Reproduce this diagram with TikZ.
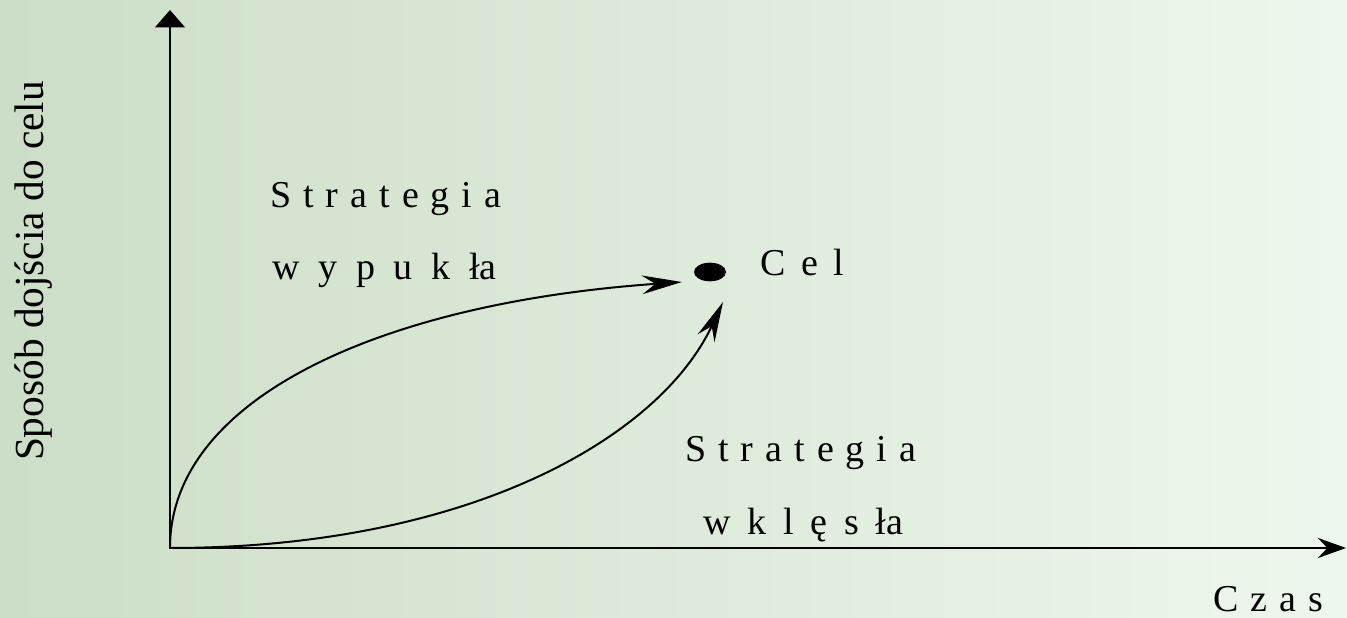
\documentclass[tikz,border=0pt]{standalone}
\usepackage{fontspec}
\setmainfont{Liberation Serif}
\usetikzlibrary{arrows.meta,shapes.geometric}
\definecolor{bgleft}{RGB}{204,222,199}
\definecolor{bgright}{RGB}{238,247,237}

\begin{document}
\begin{tikzpicture}[x=0.75pt,y=0.75pt,
    axisline/.style={line width=2.2pt,line join=miter},
    curve/.style={line width=1.5pt,-{Stealth[length=30pt,width=14pt,inset=10pt]}},
    txt/.style={font={\fontsize{28.5}{34}\selectfont\spaceskip=#1pt\relax},anchor=base west,inner sep=0pt},
    txt/.default=9]
    % Background
    \shade[left color=bgleft, right color=bgright] (0,0) rectangle (1347,618);
    \useasboundingbox (0,0) rectangle (1347,618);

    % Axes
    \coordinate (O) at (170,70);
    \coordinate (ytop) at (170,608);
    \coordinate (xend) at (1346,70);
    \draw[axisline,{Triangle[length=13pt,width=22pt]}-{Stealth[length=21pt,width=15pt,inset=7pt]}]
        (ytop) -- (O) -- (xend);

    % Goal
    \node[ellipse, fill=black, inner sep=0pt, minimum width=24pt, minimum height=14pt] (cel) at (710,346) {};
    \node[txt=11.8] (celtxt) at (760,342) {C e l};

    % Strategies
    \coordinate (tipA) at (682,336);
    \coordinate (tipB) at (723,316);
    \draw[curve] (O) .. controls (170,220) and (382,315) .. (tipA);
    \draw[curve] (O) .. controls (470,70) and (660,181) .. (tipB);

    % Labels
    \node[txt] (s1) at (270,410) {S t r a t e g i a};
    \node[txt=14] (w1) at (272,338) {w y p u k ła};
    \node[txt] (s2) at (685,156) {S t r a t e g i a};
    \node[txt=12.6] (w2) at (703,83) {w k l ę s ła};
    \node[txt] (czas) at (1213,6) {C z a s};
    \node[font=\fontsize{31}{36}\selectfont, rotate=90, anchor=base, inner sep=0pt] (ylab) at (43,347) {Sposób dojścia do celu};
\end{tikzpicture}
\end{document}
